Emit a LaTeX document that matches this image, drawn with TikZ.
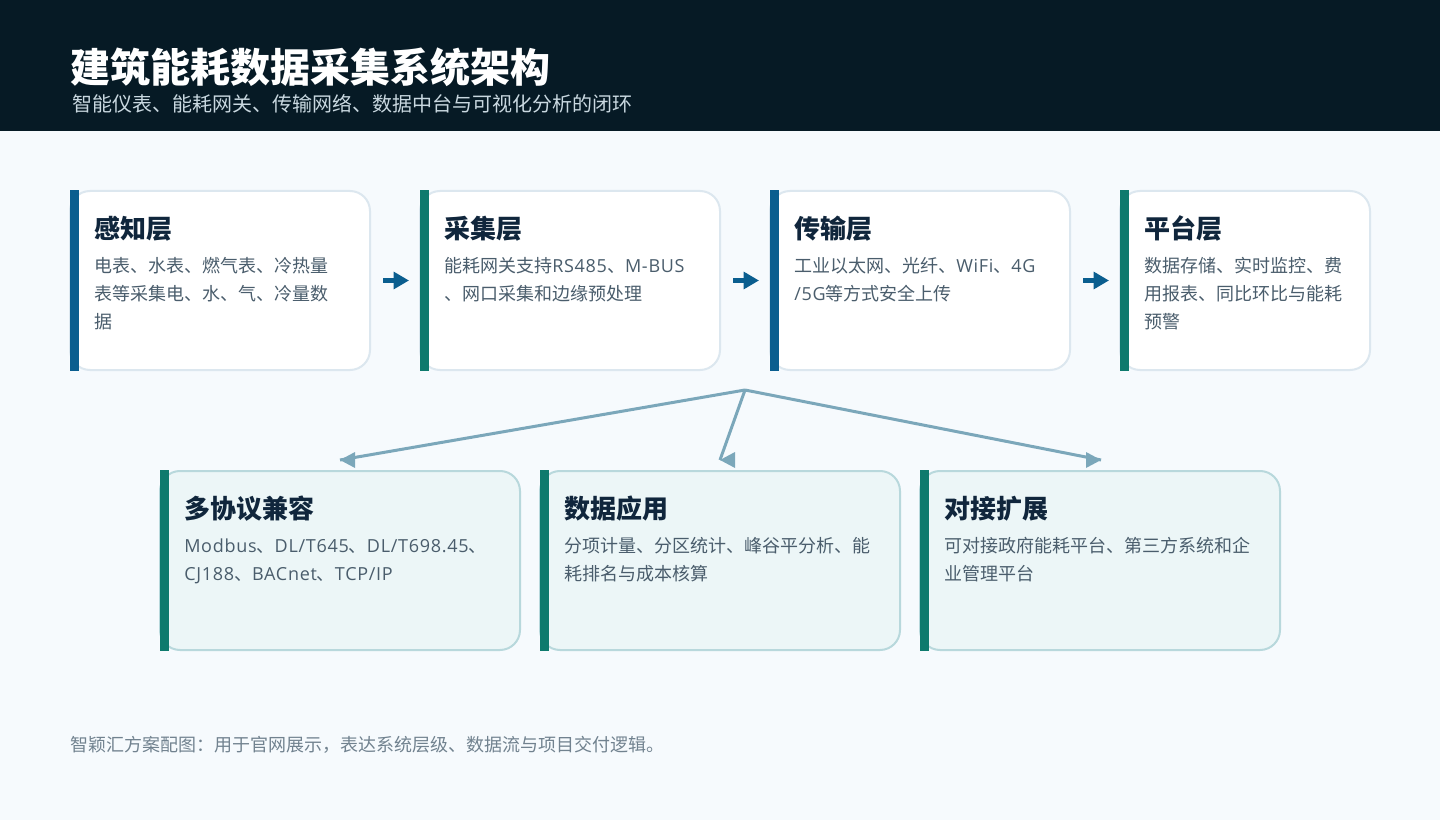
\documentclass[tikz,border=0pt]{standalone}
\usepackage{fontspec}
\usepackage{xcolor}
\usetikzlibrary{arrows.meta}
\setmainfont{Noto Sans CJK SC}
\newfontfamily\latinfont[LetterSpace=4]{Open Sans}
\newcommand{\lat}[1]{{\latinfont #1}}

\definecolor{pagebg}{HTML}{F6FAFD}
\definecolor{headbg}{HTML}{061A25}
\definecolor{barblue}{HTML}{0A5E8F}
\definecolor{bargreen}{HTML}{0E7A6D}
\definecolor{cardline}{HTML}{DCE7EF}
\definecolor{softfill}{HTML}{ECF6F7}
\definecolor{softline}{HTML}{B8D8DC}
\definecolor{titleink}{HTML}{10263C}
\definecolor{bodyink}{HTML}{4A5D6C}
\definecolor{fanline}{HTML}{7BA7BA}

\tikzset{
  layercard/.style={draw=cardline,line width=1.5pt,fill=white,rounded corners=15pt,
    minimum width=225pt,minimum height=134.25pt,inner sep=0pt},
  softcard/.style={draw=softline,line width=1.5pt,fill=softfill,rounded corners=15pt,
    minimum width=270pt,minimum height=134.25pt,inner sep=0pt},
  accent/.style={minimum width=6.75pt,minimum height=135.75pt,inner sep=0pt},
  cardtitle/.style={anchor=base west,inner sep=0pt,text=titleink,font=\fontsize{19.5pt}{24pt}\selectfont\bfseries},
  cardbody/.style={anchor=base west,inner sep=0pt,text=bodyink,font=\fontsize{13.5pt}{21pt}\selectfont},
  flowarrow/.style={draw=barblue,line width=3.4pt,shorten <=9pt,shorten >=7.5pt,
    -{Triangle[length=11.5pt,width=12.5pt]}},
  fanarrow/.style={draw=fanline,line width=2.25pt},
  fanhead/.style={fill=fanline}
}

\begin{document}
\begin{tikzpicture}[x=0.75pt,y=-0.75pt]
  \useasboundingbox (0,0) rectangle (1440,820);
  \fill[pagebg] (0,0) rectangle (1440,820);
  \fill[headbg] (0,0) rectangle (1440,131);

  % Header
  \node[anchor=base west,inner sep=0pt,text=white,font=\fontsize{30pt}{36pt}\selectfont\bfseries] (MainTitle) at (70,83) {建筑能耗数据采集系统架构};
  \node[anchor=base west,inner sep=0pt,text={rgb,255:red,201;green,216;blue,224},font=\fontsize{15pt}{18pt}\selectfont] (SubTitle) at (72,112) {智能仪表、能耗网关、传输网络、数据中台与可视化分析的闭环};

  % Upper row
  \node[layercard] (LayerA) at (220,280.5) {};
  \node[accent,fill=barblue] (BarA) at (74.5,280.5) {};
  \node[cardtitle] (TitleA) at (94,238.5) {感知层};
  \node[cardbody] (LineAa) at (94,272.5) {电表、水表、燃气表、冷热量};
  \node[cardbody] (LineAb) at (94,300.5) {表等采集电、水、气、冷量数};
  \node[cardbody] (LineAc) at (94,328.5) {据};

  \node[layercard] (LayerB) at (570,280.5) {};
  \node[accent,fill=bargreen] (BarB) at (424.5,280.5) {};
  \node[cardtitle] (TitleB) at (444,238.5) {采集层};
  \node[cardbody] (LineBa) at (444,272.5) {能耗网关支持\lat{RS485}、\lat{M-BUS}};
  \node[cardbody] (LineBb) at (444,300.5) {、网口采集和边缘预处理};

  \node[layercard] (LayerC) at (920,280.5) {};
  \node[accent,fill=barblue] (BarC) at (774.5,280.5) {};
  \node[cardtitle] (TitleC) at (794,238.5) {传输层};
  \node[cardbody] (LineCa) at (794,272.5) {工业以太网、光纤、\lat{WiFi}、\lat{4G}};
  \node[cardbody] (LineCb) at (794,300.5) {\lat{/5G}等方式安全上传};

  \node[layercard,minimum width=187.5pt] (LayerD) at (1245,280.5) {};
  \node[accent,fill=bargreen] (BarD) at (1124.5,280.5) {};
  \node[cardtitle] (TitleD) at (1144,238.5) {平台层};
  \node[cardbody] (LineDa) at (1144,272.5) {数据存储、实时监控、费};
  \node[cardbody] (LineDb) at (1144,300.5) {用报表、同比环比与能耗};
  \node[cardbody] (LineDc) at (1144,328.5) {预警};

  \draw[flowarrow] (LayerA.east) to (LayerB.west);
  \draw[flowarrow] (LayerB.east) to (LayerC.west);
  \draw[flowarrow] (LayerC.east) to (LayerD.west);

  % Lower row
  \node[softcard] (SoftA) at (340,560.5) {};
  \node[accent,fill=bargreen] (SoftBarA) at (164.5,560.5) {};
  \node[cardtitle] (SoftTitleA) at (184,518.5) {多协议兼容};
  \node[cardbody] (SoftLineAa) at (184,552.5) {\lat{Modbus}、\lat{DL/T645}、\lat{DL/T698.45}、};
  \node[cardbody] (SoftLineAb) at (184,580.5) {\lat{CJ188}、\lat{BACnet}、\lat{TCP/IP}};

  \node[softcard] (SoftB) at (720,560.5) {};
  \node[accent,fill=bargreen] (SoftBarB) at (544.5,560.5) {};
  \node[cardtitle] (SoftTitleB) at (564,518.5) {数据应用};
  \node[cardbody] (SoftLineBa) at (564,552.5) {分项计量、分区统计、峰谷平分析、能};
  \node[cardbody] (SoftLineBb) at (564,580.5) {耗排名与成本核算};

  \node[softcard] (SoftC) at (1100,560.5) {};
  \node[accent,fill=bargreen] (SoftBarC) at (924.5,560.5) {};
  \node[cardtitle] (SoftTitleC) at (944,518.5) {对接扩展};
  \node[cardbody] (SoftLineCa) at (944,552.5) {可对接政府能耗平台、第三方系统和企};
  \node[cardbody] (SoftLineCb) at (944,580.5) {业管理平台};

  % Fan out
  \coordinate (Hub) at (745,390);
  \coordinate (TipA) at (340,460);
  \coordinate (TipB) at (720,460);
  \coordinate (TipC) at (1101,460);
  \draw[fanarrow] (Hub) to (TipA);
  \draw[fanarrow] (Hub) to (TipB);
  \draw[fanarrow] (Hub) to (TipC);
  \fill[fanhead] (TipA) -- ++(15,-8) -- ++(0,16) -- cycle;
  \fill[fanhead] (TipB) -- ++(15,-8) -- ++(0,16) -- cycle;
  \fill[fanhead] (TipC) -- ++(-15,-8) -- ++(0,16) -- cycle;

  % Footer
  \node[anchor=base west,inner sep=0pt,text={rgb,255:red,113;green,130;blue,143},font=\fontsize{13.5pt}{21pt}\selectfont] (FootNote) at (70,751) {智颖汇方案配图：用于官网展示，表达系统层级、数据流与项目交付逻辑。};
\end{tikzpicture}
\end{document}
